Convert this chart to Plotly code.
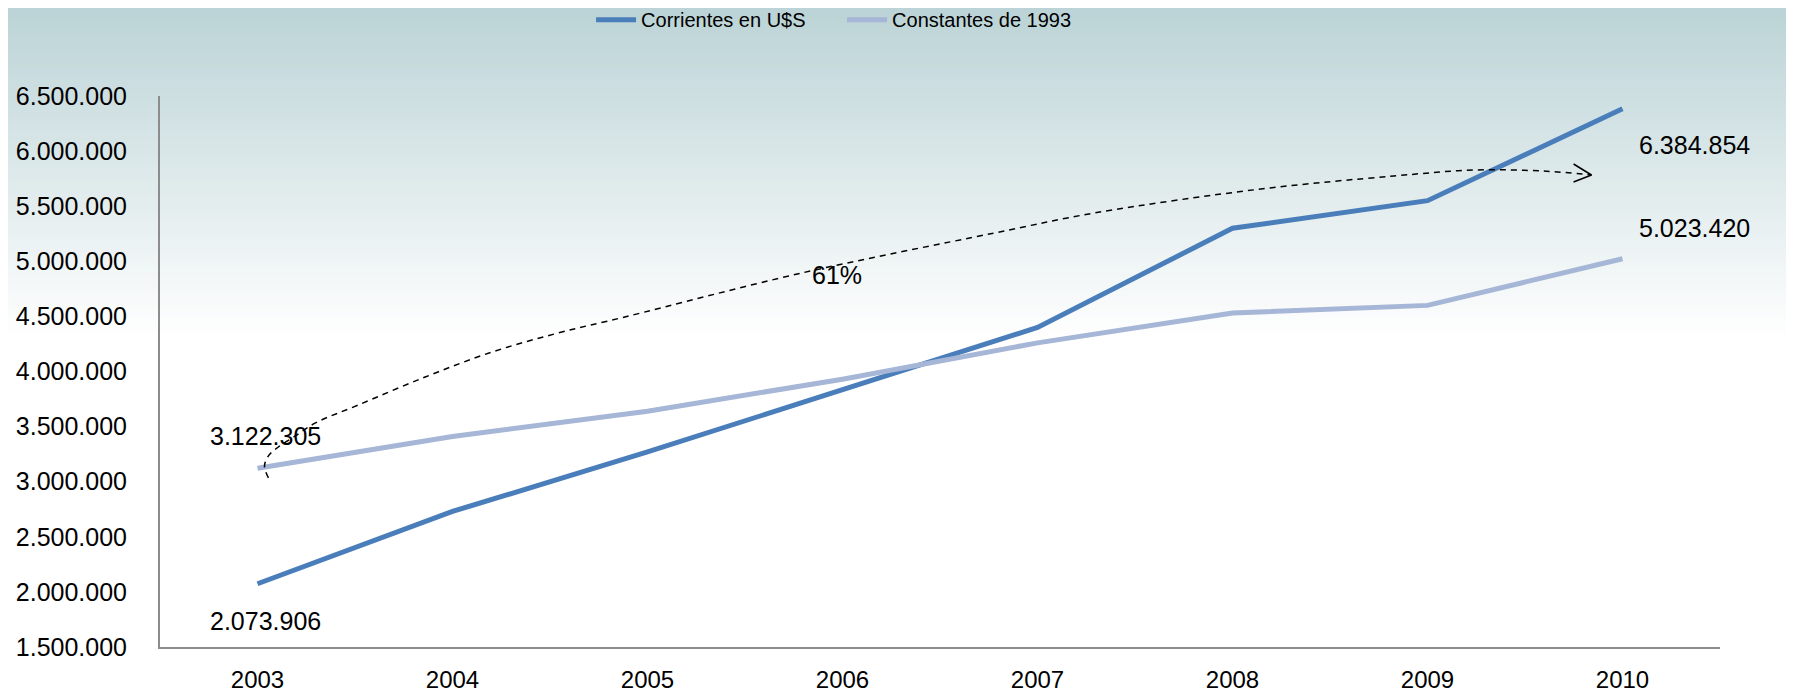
import plotly.graph_objects as go

# data
years = [2003, 2004, 2005, 2006, 2007, 2008, 2009, 2010]
corrientes = [2073906, 2730000, 3270000, 3840000, 4400000, 5300000, 5550000, 6384854]
constantes = [3122305, 3410000, 3640000, 3930000, 4260000, 4530000, 4600000, 5023420]
series_names = ["Corrientes en U$S", "Constantes de 1993"]
growth_label = "61%"

# curved dashed arrow (year, value) from 2003 towards 2010
arc_x = [2003.056, 2003.036, 2003.056, 2003.107, 2003.194, 2003.297, 2003.517, 2003.860,
         2004.203, 2004.541, 2004.884, 2005.791, 2006.779, 2007.291, 2008.146, 2008.827,
         2009.237, 2009.595, 2009.841]
arc_y = [3034000, 3143000, 3234000, 3315000, 3415000, 3533000, 3696000, 3950000,
         4177000, 4349000, 4495000, 4894000, 5257000, 5438000, 5656000, 5774000,
         5828000, 5819000, 5783000]
head_x = [2009.749, 2009.841, 2009.749]
head_y = [5883000, 5783000, 5720000]

BLUE = "#4a7ebb"
LIGHT = "#a6b6d6"
FONT = "Liberation Sans, Arial, sans-serif"


def fmt(v):
    return f"{v:,}".replace(",", ".")


fig = go.Figure()

fig.add_trace(go.Scatter(
    x=years, y=corrientes, mode="lines", name=series_names[0],
    line=dict(color=BLUE, width=5), hoverinfo="skip"
))
fig.add_trace(go.Scatter(
    x=years, y=constantes, mode="lines", name=series_names[1],
    line=dict(color=LIGHT, width=5), hoverinfo="skip"
))

# flecha punteada
fig.add_trace(go.Scatter(
    x=arc_x, y=arc_y, mode="lines", showlegend=False, hoverinfo="skip",
    line=dict(color="black", width=1.5, dash="6px,5px", shape="spline", smoothing=1.0)
))
fig.add_trace(go.Scatter(
    x=head_x, y=head_y, mode="lines", showlegend=False, hoverinfo="skip",
    line=dict(color="black", width=1.5)
))

# fondo degradado (verde azulado arriba -> blanco)
shapes = []
top, bottom = 1.175, 0.557
n = 70
c0 = (186, 211, 214)
for i in range(n):
    t = i / (n - 1)
    r = int(c0[0] + (255 - c0[0]) * t)
    g = int(c0[1] + (255 - c0[1]) * t)
    b = int(c0[2] + (255 - c0[2]) * t)
    y1 = top - (top - bottom) * i / n
    y0 = top - (top - bottom) * (i + 1) / n - 0.002
    shapes.append(dict(
        type="rect", xref="paper", yref="paper", x0=-0.11, x1=1.06, y0=y0, y1=y1,
        fillcolor=f"rgb({r},{g},{b})", line=dict(width=0), layer="below"
    ))

annotations = [
    dict(x=years[0], y=constantes[0], text=fmt(constantes[0]), showarrow=False,
         xshift=8, yshift=32),
    dict(x=years[0], y=corrientes[0], text=fmt(corrientes[0]), showarrow=False,
         xshift=8, yshift=-37),
    dict(x=years[-1], y=corrientes[-1], text=fmt(corrientes[-1]), showarrow=False,
         xshift=72, yshift=-36),
    dict(x=years[-1], y=constantes[-1], text=fmt(constantes[-1]), showarrow=False,
         xshift=72, yshift=31),
    dict(x=2005.97, y=4880000, text=growth_label, showarrow=False),
]
for a in annotations:
    a["font"] = dict(family=FONT, size=25, color="black")

fig.update_layout(
    width=1786, height=686,
    margin=dict(l=152, r=74, t=88, b=47, autoexpand=False),
    paper_bgcolor="white",
    plot_bgcolor="rgba(0,0,0,0)",
    separators=",.",
    font=dict(family=FONT, size=24, color="black"),
    shapes=shapes,
    annotations=annotations,
    showlegend=True,
    legend=dict(
        orientation="h", xref="container", x=0.467, xanchor="center",
        yref="container", y=0.983, yanchor="middle",
        font=dict(family=FONT, size=20),
        bgcolor="rgba(0,0,0,0)", itemwidth=40, entrywidth=196,
    ),
    xaxis=dict(
        range=[2002.5, 2010.5], tickmode="array", tickvals=years,
        ticktext=[str(y) for y in years], showgrid=False, zeroline=False,
        showline=True, linecolor="#8c8c8c", linewidth=2, ticks="",
        ticklabelstandoff=10, automargin=False,
    ),
    yaxis=dict(
        range=[1500000, 6500000], dtick=500000, tickformat=",d",
        showgrid=False, zeroline=False, showline=True, linecolor="#8c8c8c",
        linewidth=2, ticks="", ticklabelstandoff=26, automargin=False,
        tickfont=dict(size=25),
    ),
)

fig.write_html("out.html")
